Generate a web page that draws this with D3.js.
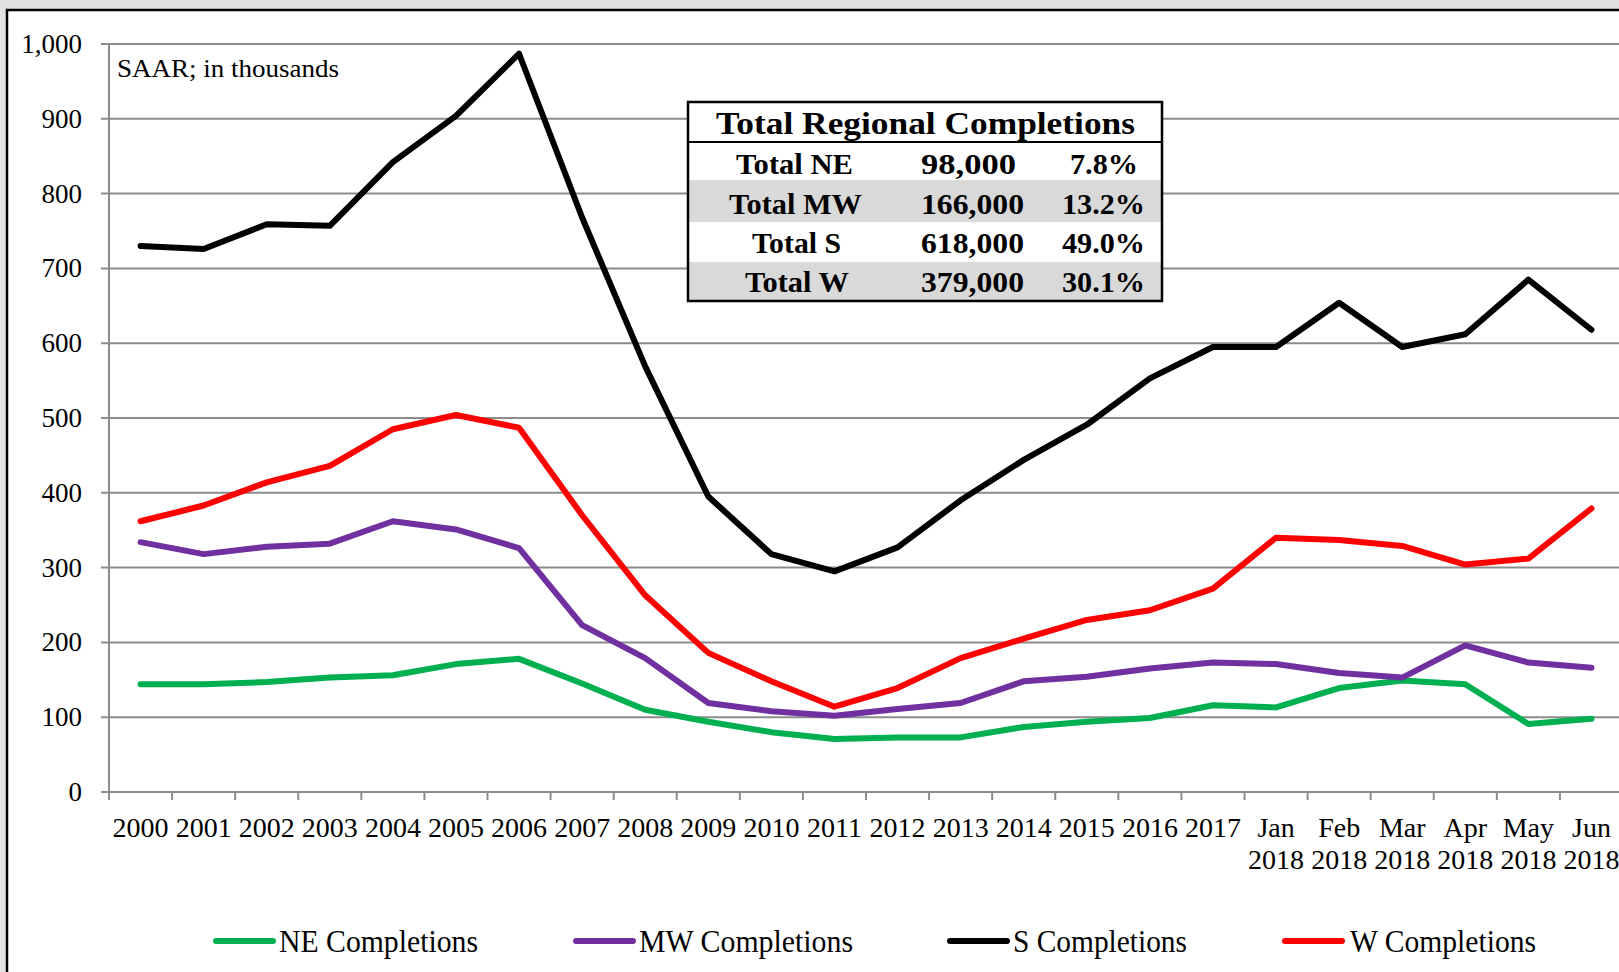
<!DOCTYPE html>
<meta charset="utf-8">
<style>
  body { margin: 0; background: #e2e2e2; overflow: hidden; }
  svg text { font-family: 'Liberation Serif', 'Times New Roman', serif; fill: #000; }
</style>
<body>
<div id="chart"></div>
<script src="https://d3js.org/d3.v7.min.js"></script>
<script>

// categories on the x axis (second line under months)
var categories = ["2000","2001","2002","2003","2004","2005","2006","2007","2008","2009",
  "2010","2011","2012","2013","2014","2015","2016","2017",
  "Jan 2018","Feb 2018","Mar 2018","Apr 2018","May 2018","Jun 2018"];

// completions, SAAR in thousands
var neValues = [144,144,147,153,156,171,178,145,110,94,80,71,73,73,87,94,99,116,113,139,149,144,91,98];
var mwValues = [334,318,328,332,362,351,326,223,179,119,108,102,111,119,148,154,165,173,171,159,153,196,173,166];
var sValues  = [730,726,759,757,842,904,987,768,569,395,318,295,327,390,444,491,553,595,595,654,595,612,685,618];
var wValues  = [362,383,414,436,485,504,487,370,263,186,148,114,139,179,205,230,243,272,340,337,329,304,312,379];

var yTicks = [0,100,200,300,400,500,600,700,800,900,1000];

// table in the upper middle
var tableTitle = "Total Regional Completions";
var tableRegions = ["Total NE","Total MW","Total S","Total W"];
var tableTotals  = ["98,000","166,000","618,000","379,000"];
var tableShares  = ["7.8%","13.2%","49.0%","30.1%"];

var seriesNames  = ["NE Completions","MW Completions","S Completions","W Completions"];
var seriesColors = ["#00b050","#7030a0","#000000","#ff0000"];
var seriesData   = [neValues, mwValues, sValues, wValues];

var W = 1619, H = 972;

var svg = d3.select("#chart").append("svg")
    .attr("width", W)
    .attr("height", H);

// white chart area with black frame
svg.append("rect")
    .attr("x", 7).attr("y", 10)
    .attr("width", W + 20).attr("height", H + 20)
    .style("fill", "#fff")
    .style("stroke", "#000")
    .style("stroke-width", 2.5);

// scales
var x = d3.scaleBand().domain(categories).range([109, 1623]);
var y = d3.scaleLinear().domain([0, 1000]).range([792, 44]);
var cx = function(c) { return x(c) + x.bandwidth() / 2; };

// gridlines
svg.append("g").selectAll("line")
    .data(yTicks)
    .enter().append("line")
    .attr("x1", 101).attr("x2", 1640)
    .attr("y1", function(d) { return y(d); })
    .attr("y2", function(d) { return y(d); })
    .style("stroke", "#8c8c8c")
    .style("stroke-width", 2);

// y axis line
svg.append("line")
    .attr("x1", 109).attr("x2", 109)
    .attr("y1", y(1000)).attr("y2", y(0))
    .style("stroke", "#8c8c8c")
    .style("stroke-width", 2);

// y tick labels
svg.append("g").selectAll("text")
    .data(yTicks)
    .enter().append("text")
    .attr("x", 82)
    .attr("y", function(d) { return y(d) + 9; })
    .attr("text-anchor", "end")
    .style("font-size", "27px")
    .text(function(d) { return d3.format(",")(d); });

// x ticks at band edges
var edges = categories.map(function(c) { return x(c); });
svg.append("g").selectAll("line")
    .data(edges)
    .enter().append("line")
    .attr("x1", function(d) { return d; })
    .attr("x2", function(d) { return d; })
    .attr("y1", y(0)).attr("y2", y(0) + 8)
    .style("stroke", "#8c8c8c")
    .style("stroke-width", 2);

// x tick labels (two lines for months)
var xl = svg.append("g").selectAll("text")
    .data(categories)
    .enter().append("text")
    .attr("text-anchor", "middle")
    .style("font-size", "28px");
xl.each(function(d) {
    var parts = d.split(" ");
    var t = d3.select(this);
    parts.forEach(function(p, i) {
        t.append("tspan")
            .attr("x", cx(d))
            .attr("y", 837 + i * 32)
            .text(p);
    });
});

// SAAR note
svg.append("text")
    .attr("x", 117).attr("y", 77)
    .style("font-size", "25px")
    .attr("textLength", 222)
    .attr("lengthAdjust", "spacingAndGlyphs")
    .text("SAAR; in thousands");

// series lines
var line = d3.line()
    .x(function(d, i) { return cx(categories[i]); })
    .y(function(d) { return y(d); });

seriesData.forEach(function(vals, k) {
    svg.append("path")
        .datum(vals)
        .attr("d", line)
        .style("fill", "none")
        .style("stroke", seriesColors[k])
        .style("stroke-width", 6)
        .style("stroke-linejoin", "round")
        .style("stroke-linecap", "round");
});

// table box
var tx0 = 688, tx1 = 1162;
var rowTops = [142, 180, 222, 262, 301];
var tbl = svg.append("g");
tbl.append("rect")
    .attr("x", tx0).attr("y", 102)
    .attr("width", tx1 - tx0).attr("height", 199)
    .style("fill", "#fff");
tableRegions.forEach(function(r, i) {
    if (i % 2 == 1) {
        tbl.append("rect")
            .attr("x", tx0).attr("y", rowTops[i])
            .attr("width", tx1 - tx0).attr("height", rowTops[i + 1] - rowTops[i])
            .style("fill", "#d9d9d9");
    }
});
tbl.append("line")
    .attr("x1", tx0).attr("x2", tx1)
    .attr("y1", 142).attr("y2", 142)
    .style("stroke", "#000").style("stroke-width", 2);
tbl.append("rect")
    .attr("x", tx0).attr("y", 102)
    .attr("width", tx1 - tx0).attr("height", 199)
    .style("fill", "none")
    .style("stroke", "#000")
    .style("stroke-width", 2.5);

tbl.append("text")
    .attr("x", 716).attr("y", 134)
    .attr("textLength", 419)
    .attr("lengthAdjust", "spacingAndGlyphs")
    .style("font-size", "31px")
    .style("font-weight", "bold")
    .text(tableTitle);

var baselines = [174, 214, 253, 292];
var wide = [[117, 133, 89, 104], [95, 103, 103, 103], [68, 83, 83, 83]];
var starts = [[736, 729, 752, 745], [921, 921, 921, 921], [1070, 1062, 1062, 1062]];
[tableRegions, tableTotals, tableShares].forEach(function(col, c) {
    col.forEach(function(txt, i) {
        tbl.append("text")
            .attr("x", starts[c][i]).attr("y", baselines[i])
            .attr("textLength", wide[c][i])
            .attr("lengthAdjust", "spacingAndGlyphs")
            .style("font-size", "29px")
            .style("font-weight", "bold")
            .text(txt);
    });
});

// legend
var legLineX = [216, 576, 950, 1285];
var legTextX = [279, 639, 1013, 1350];
var legTextW = [199, 214, 174, 186];
var leg = svg.append("g");
seriesNames.forEach(function(n, k) {
    leg.append("line")
        .attr("x1", legLineX[k]).attr("x2", legLineX[k] + 57)
        .attr("y1", 941).attr("y2", 941)
        .style("stroke", seriesColors[k])
        .style("stroke-width", 6)
        .style("stroke-linecap", "round");
    leg.append("text")
        .attr("x", legTextX[k]).attr("y", 952)
        .attr("textLength", legTextW[k])
        .attr("lengthAdjust", "spacingAndGlyphs")
        .style("font-size", "31px")
        .text(n);
});

</script>
</body>
